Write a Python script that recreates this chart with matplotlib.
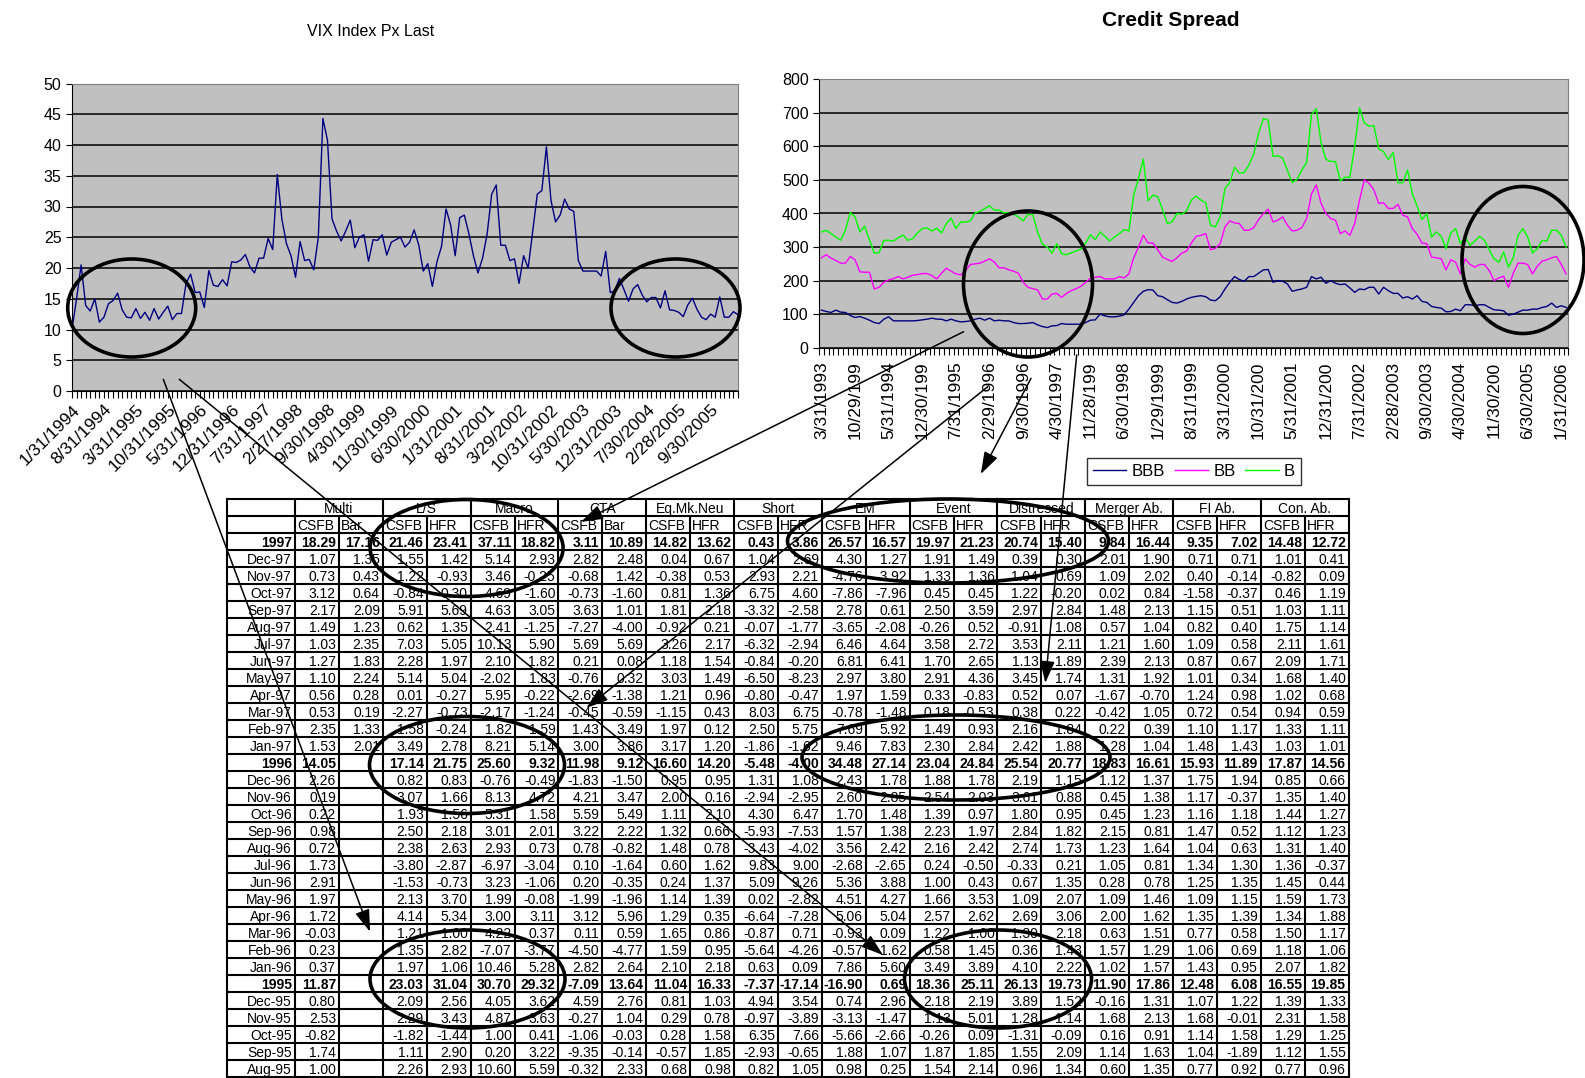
import matplotlib
matplotlib.use('Agg')
import matplotlib.pyplot as plt
from matplotlib.patches import Ellipse
import numpy as np

plt.rcParams['font.family'] = ['Liberation Sans', 'DejaVu Sans']

# VIX month-end closes, starting 1/31/1994
vix = [10.0, 15.0, 20.5, 13.9, 13.0, 15.0, 11.2, 12.0, 14.2, 14.7, 15.9, 13.2,
       12.0, 11.9, 13.4, 11.8, 12.8, 11.5, 13.4, 11.7, 12.8, 13.8, 11.6, 12.6,
       12.6, 17.5, 19.0, 16.0, 16.1, 13.6, 19.6, 17.2, 17.0, 18.1, 17.1, 21.0,
       20.9, 21.3, 22.2, 20.2, 19.2, 21.6, 21.6, 24.8, 23.0, 35.2, 28.0, 24.0,
       22.0, 18.5, 24.3, 21.2, 21.4, 19.7, 25.0, 44.3, 40.8, 28.0, 26.0, 24.4,
       26.0, 27.8, 23.3, 25.0, 25.4, 21.1, 24.6, 24.5, 25.4, 22.1, 24.2, 24.6,
       25.0, 23.4, 24.2, 26.2, 23.8, 19.5, 20.7, 17.0, 21.0, 23.5, 29.6, 27.0,
       22.0, 28.2, 28.6, 25.6, 22.0, 19.2, 21.6, 25.5, 32.0, 33.5, 23.7, 23.7,
       21.2, 21.5, 17.5, 22.0, 20.0, 26.0, 32.0, 32.6, 39.7, 31.0, 27.5, 28.6,
       31.2, 29.6, 29.2, 21.2, 19.5, 19.5, 19.5, 19.5, 18.7, 22.7, 16.0, 16.3,
       18.3, 16.5, 14.6, 16.6, 17.3, 15.6, 14.5, 15.2, 15.2, 13.5, 16.3, 13.2,
       13.1, 12.8, 12.1, 14.0, 15.1, 13.3, 12.0, 11.6, 12.5, 12.0, 15.3, 12.0,
       12.0, 12.9, 12.4]
vix_labels = ['1/31/1994', '8/31/1994', '3/31/1995', '10/31/1995', '5/31/1996',
              '12/31/1996', '7/31/1997', '2/27/1998', '9/30/1998', '4/30/1999',
              '11/30/1999', '6/30/2000', '1/31/2001', '8/31/2001', '3/29/2002',
              '10/31/2002', '5/30/2003', '12/31/2003', '7/30/2004', '2/28/2005',
              '9/30/2005']

# credit spreads (bp), month-end starting 3/31/1993
bbb = [112, 108, 105, 112, 106, 105, 96, 90, 93, 88, 82, 75,
       72, 85, 92, 80, 80, 80, 80, 80, 81, 83, 85, 88,
       85, 85, 80, 85, 80, 77, 78, 80, 85, 88, 82, 88,
       80, 82, 80, 80, 75, 72, 72, 73, 75, 68, 63, 60,
       65, 66, 72, 70, 70, 70, 70, 75, 82, 83, 100, 95,
       92, 92, 94, 98, 115, 135, 155, 168, 173, 172, 155, 152,
       143, 135, 133, 138, 145, 150, 153, 155, 152, 142, 140, 152,
       175, 195, 212, 203, 198, 212, 212, 222, 232, 233, 195, 200,
       198, 190, 168, 172, 175, 180, 212, 205, 210, 192, 200, 192,
       188, 190, 178, 165, 175, 173, 180, 180, 160, 180, 170, 162,
       162, 148, 152, 145, 155, 138, 135, 123, 120, 118, 107, 108,
       115, 110, 128, 128, 125, 128, 128, 120, 113, 112, 110, 97,
       100, 106, 112, 112, 115, 115, 120, 123, 133, 120, 125, 120]
bb = [268, 277, 267, 260, 252, 252, 272, 262, 226, 225, 225, 175,
      180, 195, 202, 206, 212, 205, 210, 216, 218, 221, 221, 215,
      205, 222, 237, 228, 220, 217, 230, 248, 250, 252, 258, 265,
      255, 238, 238, 232, 228, 222, 195, 180, 176, 172, 145, 145,
      160, 162, 150, 162, 170, 176, 183, 195, 207, 210, 212, 205,
      205, 205, 212, 208, 220, 268, 300, 335, 312, 312, 292, 270,
      263, 257, 268, 282, 288, 312, 332, 335, 340, 292, 296, 310,
      360, 378, 372, 370, 350, 350, 358, 382, 400, 413, 375, 380,
      390, 365, 348, 350, 358, 385, 458, 485, 430, 400, 385, 380,
      340, 348, 335, 370, 440, 500, 490, 470, 430, 432, 415, 415,
      427, 395, 390, 355, 338, 312, 310, 270, 268, 265, 232, 262,
      255, 220, 265, 248, 240, 248, 248, 230, 200, 208, 213, 180,
      222, 252, 252, 248, 220, 243, 258, 262, 268, 272, 248, 220]
b = [345, 350, 340, 330, 320, 350, 403, 390, 345, 362, 322, 282,
     283, 320, 320, 318, 328, 336, 320, 325, 342, 355, 357, 348,
     356, 342, 370, 386, 355, 375, 374, 378, 402, 406, 415, 423,
     410, 410, 402, 403, 398, 390, 378, 398, 396, 345, 308, 300,
     282, 310, 280, 277, 283, 288, 294, 312, 337, 322, 345, 332,
     318, 330, 340, 352, 348, 455, 505, 562, 438, 455, 450, 412,
     370, 375, 400, 398, 408, 440, 452, 440, 432, 365, 360, 390,
     475, 492, 538, 520, 522, 545, 578, 640, 683, 678, 570, 572,
     565, 528, 492, 502, 530, 552, 695, 712, 610, 562, 555, 555,
     497, 508, 508, 600, 715, 670, 660, 662, 592, 585, 560, 582,
     492, 492, 530, 458, 422, 382, 400, 330, 345, 332, 295, 342,
     355, 310, 330, 305, 318, 332, 320, 292, 265, 255, 285, 240,
     268, 335, 355, 330, 282, 295, 320, 318, 350, 350, 335, 300]
credit_labels = ['3/31/1993', '10/29/199', '5/31/1994', '12/30/199', '7/31/1995',
                 '2/29/1996', '9/30/1996', '4/30/1997', '11/28/199', '6/30/1998',
                 '1/29/1999', '8/31/1999', '3/31/2000', '10/31/200', '5/31/2001',
                 '12/31/200', '7/31/2002', '2/28/2003', '9/30/2003', '4/30/2004',
                 '11/30/200', '6/30/2005', '1/31/2006']

# hedge fund index table
groups = ['Multi', 'L/S', 'Macro', 'CTA', 'Eq.Mk.Neu', 'Short', 'EM', 'Event',
          'Distressed', 'Merger Ab.', 'FI Ab.', 'Con. Ab.']
sub_heads = ['CSFB', 'Bar', 'CSFB', 'HFR', 'CSFB', 'HFR', 'CSFB', 'Bar'] + ['CSFB', 'HFR'] * 8
row_labels = ['1997', 'Dec-97', 'Nov-97', 'Oct-97', 'Sep-97', 'Aug-97', 'Jul-97', 'Jun-97',
              'May-97', 'Apr-97', 'Mar-97', 'Feb-97', 'Jan-97',
              '1996', 'Dec-96', 'Nov-96', 'Oct-96', 'Sep-96', 'Aug-96', 'Jul-96', 'Jun-96',
              'May-96', 'Apr-96', 'Mar-96', 'Feb-96', 'Jan-96',
              '1995', 'Dec-95', 'Nov-95', 'Oct-95', 'Sep-95', 'Aug-95']
table_rows = [
    '18.29 17.16 21.46 23.41 37.11 18.82 3.11 10.89 14.82 13.62 0.43 3.86 26.57 16.57 19.97 21.23 20.74 15.40 9.84 16.44 9.35 7.02 14.48 12.72',
    '1.07 1.35 1.55 1.42 5.14 2.93 2.82 2.48 0.04 0.67 1.04 2.69 4.30 1.27 1.91 1.49 0.39 0.30 2.01 1.90 0.71 0.71 1.01 0.41',
    '0.73 0.43 1.22 -0.93 3.46 -0.25 -0.68 1.42 -0.38 0.53 2.93 2.21 -4.76 -3.92 1.33 1.36 1.04 0.69 1.09 2.02 0.40 -0.14 -0.82 0.09',
    '3.12 0.64 -0.84 0.30 4.69 -1.60 -0.73 -1.60 0.81 1.36 6.75 4.60 -7.86 -7.96 0.45 0.45 1.22 -0.20 0.02 0.84 -1.58 -0.37 0.46 1.19',
    '2.17 2.09 5.91 5.69 4.63 3.05 3.63 1.01 1.81 2.18 -3.32 -2.58 2.78 0.61 2.50 3.59 2.97 2.84 1.48 2.13 1.15 0.51 1.03 1.11',
    '1.49 1.23 0.62 1.35 2.41 -1.25 -7.27 -4.00 -0.92 0.21 -0.07 -1.77 -3.65 -2.08 -0.26 0.52 -0.91 1.08 0.57 1.04 0.82 0.40 1.75 1.14',
    '1.03 2.35 7.03 5.05 10.13 5.90 5.69 5.69 3.26 2.17 -6.32 -2.94 6.46 4.64 3.58 2.72 3.53 2.11 1.21 1.60 1.09 0.58 2.11 1.61',
    '1.27 1.83 2.28 1.97 2.10 1.82 0.21 0.08 1.18 1.54 -0.84 -0.20 6.81 6.41 1.70 2.65 1.13 1.89 2.39 2.13 0.87 0.67 2.09 1.71',
    '1.10 2.24 5.14 5.04 -2.02 1.83 -0.76 0.32 3.03 1.49 -6.50 -8.23 2.97 3.80 2.91 4.36 3.45 1.74 1.31 1.92 1.01 0.34 1.68 1.40',
    '0.56 0.28 0.01 -0.27 5.95 -0.22 -2.69 -1.38 1.21 0.96 -0.80 -0.47 1.97 1.59 0.33 -0.83 0.52 0.07 -1.67 -0.70 1.24 0.98 1.02 0.68',
    '0.53 0.19 -2.27 -0.73 -2.17 -1.24 -0.45 -0.59 -1.15 0.43 8.03 6.75 -0.78 -1.48 0.18 -0.53 0.38 0.22 -0.42 1.05 0.72 0.54 0.94 0.59',
    '2.35 1.33 1.58 -0.24 1.82 1.59 1.43 3.49 1.97 0.12 2.50 5.75 7.69 5.92 1.49 0.93 2.16 1.84 0.22 0.39 1.10 1.17 1.33 1.11',
    '1.53 2.01 3.49 2.78 8.21 5.14 3.00 3.86 3.17 1.20 -1.86 -1.62 9.46 7.83 2.30 2.84 2.42 1.88 1.28 1.04 1.48 1.43 1.03 1.01',
    '14.05 _ 17.14 21.75 25.60 9.32 11.98 9.12 16.60 14.20 -5.48 -4.00 34.48 27.14 23.04 24.84 25.54 20.77 18.83 16.61 15.93 11.89 17.87 14.56',
    '2.26 _ 0.82 0.83 -0.76 -0.49 -1.83 -1.50 0.95 0.95 1.31 1.08 2.43 1.78 1.88 1.78 2.19 1.15 1.12 1.37 1.75 1.94 0.85 0.66',
    '0.19 _ 3.07 1.66 8.13 4.72 4.21 3.47 2.00 0.16 -2.94 -2.95 2.60 2.85 2.54 2.03 3.61 0.88 0.45 1.38 1.17 -0.37 1.35 1.40',
    '0.22 _ 1.93 1.56 5.31 1.58 5.59 5.49 1.11 2.10 4.30 6.47 1.70 1.48 1.39 0.97 1.80 0.95 0.45 1.23 1.16 1.18 1.44 1.27',
    '0.98 _ 2.50 2.18 3.01 2.01 3.22 2.22 1.32 0.66 -5.93 -7.53 1.57 1.38 2.23 1.97 2.84 1.82 2.15 0.81 1.47 0.52 1.12 1.23',
    '0.72 _ 2.38 2.63 2.93 0.73 0.78 -0.82 1.48 0.78 -3.43 -4.02 3.56 2.42 2.16 2.42 2.74 1.73 1.23 1.64 1.04 0.63 1.31 1.40',
    '1.73 _ -3.80 -2.87 -6.97 -3.04 0.10 -1.64 0.60 1.62 9.83 9.00 -2.68 -2.65 0.24 -0.50 -0.33 0.21 1.05 0.81 1.34 1.30 1.36 -0.37',
    '2.91 _ -1.53 -0.73 3.23 -1.06 0.20 -0.35 0.24 1.37 5.09 9.26 5.36 3.88 1.00 0.43 0.67 1.35 0.28 0.78 1.25 1.35 1.45 0.44',
    '1.97 _ 2.13 3.70 1.99 -0.08 -1.99 -1.96 1.14 1.39 0.02 -2.82 4.51 4.27 1.66 3.53 1.09 2.07 1.09 1.46 1.09 1.15 1.59 1.73',
    '1.72 _ 4.14 5.34 3.00 3.11 3.12 5.96 1.29 0.35 -6.64 -7.28 5.06 5.04 2.57 2.62 2.69 3.06 2.00 1.62 1.35 1.39 1.34 1.88',
    '-0.03 _ 1.21 1.00 4.22 0.37 0.11 0.59 1.65 0.86 -0.87 0.71 -0.93 0.09 1.22 1.00 1.30 2.18 0.63 1.51 0.77 0.58 1.50 1.17',
    '0.23 _ 1.35 2.82 -7.07 -3.77 -4.50 -4.77 1.59 0.95 -5.64 -4.26 -0.57 1.62 0.58 1.45 0.36 1.43 1.57 1.29 1.06 0.69 1.18 1.06',
    '0.37 _ 1.97 1.06 10.46 5.28 2.82 2.64 2.10 2.18 0.63 0.09 7.86 5.60 3.49 3.89 4.10 2.22 1.02 1.57 1.43 0.95 2.07 1.82',
    '11.87 _ 23.03 31.04 30.70 29.32 -7.09 13.64 11.04 16.33 -7.37 -17.14 -16.90 0.69 18.36 25.11 26.13 19.73 11.90 17.86 12.48 6.08 16.55 19.85',
    '0.80 _ 2.09 2.56 4.05 3.62 4.59 2.76 0.81 1.03 4.94 3.54 0.74 2.96 2.18 2.19 3.89 1.52 -0.16 1.31 1.07 1.22 1.39 1.33',
    '2.53 _ 2.29 3.43 4.87 3.63 -0.27 1.04 0.29 0.78 -0.97 -3.89 -3.13 -1.47 1.13 5.01 1.28 1.14 1.68 2.13 1.68 -0.01 2.31 1.58',
    '-0.82 _ -1.82 -1.44 1.00 0.41 -1.06 -0.03 0.28 1.58 6.35 7.66 -5.66 -2.66 -0.26 0.09 -1.31 -0.09 0.16 0.91 1.14 1.58 1.29 1.25',
    '1.74 _ 1.11 2.90 0.20 3.22 -9.35 -0.14 -0.57 1.85 -2.93 -0.65 1.88 1.07 1.87 1.85 1.55 2.09 1.14 1.63 1.04 -1.89 1.12 1.55',
    '1.00 _ 2.26 2.93 10.60 5.59 -0.32 2.33 0.68 0.98 0.82 1.05 0.98 0.25 1.54 2.14 0.96 1.34 0.60 1.35 0.77 0.92 0.77 0.96',
]

W, H = 1585, 1078
fig = plt.figure(figsize=(W / 100, H / 100), dpi=100)


def px_axes(left, top, right, bottom, **kw):
    return fig.add_axes([left / W, 1 - bottom / H, (right - left) / W, (bottom - top) / H], **kw)


def excel_style(ax):
    ax.set_facecolor('#C0C0C0')
    ax.yaxis.grid(True, color='black', lw=1.1)
    ax.set_axisbelow(True)
    for s in ('top', 'right'):
        ax.spines[s].set_color('#808080')
    for s in ('left', 'bottom'):
        ax.spines[s].set_color('black')


# ---- VIX chart
ax1 = px_axes(72, 83.5, 738, 391)
excel_style(ax1)
xv = np.arange(len(vix))
ax1.plot(xv, vix, color='#000080', lw=1)
ax1.set_xlim(0, len(vix) - 1)
ax1.set_ylim(0, 50)
ax1.set_yticks(np.arange(0, 51, 5))
ax1.set_xticks(np.arange(0, len(vix), 7))
ax1.set_xticklabels(vix_labels, rotation=45, ha='right', va='top',
                    rotation_mode='anchor', fontsize=12.5)
ax1.set_xticks(xv, minor=True)
ax1.tick_params(axis='x', which='both', length=5, width=0.8, pad=3)
ax1.tick_params(axis='y', length=4, labelsize=11.5)
fig.text(371 / W, 1 - 32 / H, 'VIX Index Px Last', ha='center', va='center', fontsize=11.5)

# ---- Credit spread chart
ax2 = px_axes(819, 79.3, 1568.5, 347.7)
excel_style(ax2)
xc = np.arange(len(b))
l1, = ax2.plot(xc, bbb, color='#000080', lw=1, label='BBB')
l2, = ax2.plot(xc, bb, color='#FF00FF', lw=1, label='BB')
l3, = ax2.plot(xc, b, color='#00FF00', lw=1, label='B')
ax2.set_xlim(-0.5, len(b) - 0.5)
ax2.set_ylim(0, 800)
ax2.set_yticks(np.arange(0, 801, 100))
ax2.set_xticks(np.arange(0, len(b), 7))
ax2.set_xticklabels(credit_labels, rotation=90, ha='center', va='top', fontsize=12.5)
ax2.set_xticks(np.arange(-0.5, len(b), 1), minor=True)
ax2.tick_params(axis='x', which='major', length=0, pad=10)
ax2.tick_params(axis='x', which='minor', length=5, width=0.8)
ax2.tick_params(axis='y', length=4, labelsize=11.5)
fig.text(1171 / W, 1 - 20 / H, 'Credit Spread', ha='center', va='center',
         fontsize=15, fontweight='bold')
leg = fig.legend(handles=[l1, l2, l3], loc='center', ncol=3,
                 bbox_to_anchor=(1194 / W, 1 - 471.5 / H), fontsize=12,
                 frameon=True, fancybox=False, edgecolor='black',
                 handlelength=2.0, handletextpad=0.3, columnspacing=0.6,
                 borderpad=0.35)
leg.get_frame().set_linewidth(1.0)

# ---- overlay in pixel coordinates: table, ellipses, arrows
ov = fig.add_axes([0, 0, 1, 1], zorder=10)
ov.set_xlim(0, W)
ov.set_ylim(H, 0)
ov.axis('off')
ov.patch.set_alpha(0)

T_LEFT, T_TOP, ROW_H, LAB_W, COL_W = 227, 499.3, 17.0, 68, 43.9
n_rows = 2 + len(row_labels)
n_cols = len(sub_heads)
t_right = T_LEFT + LAB_W + n_cols * COL_W
t_bottom = T_TOP + n_rows * ROW_H
col_x = T_LEFT + LAB_W + np.arange(n_cols + 1) * COL_W
grid_kw = dict(color='black', lw=1.5, solid_capstyle='projecting')

for k in range(n_rows + 1):
    yy = T_TOP + k * ROW_H
    ov.plot([T_LEFT, t_right], [yy, yy], **grid_kw)
ov.plot([T_LEFT, T_LEFT], [T_TOP, t_bottom], **grid_kw)
for j, xx in enumerate(col_x):
    top = T_TOP if j % 2 == 0 else T_TOP + ROW_H
    ov.plot([xx, xx], [top, t_bottom], **grid_kw)

FS = 10
for g, name in enumerate(groups):
    ov.text(col_x[2 * g] + COL_W, T_TOP + 0.5 * ROW_H + 5, name, ha='center',
            va='baseline', fontsize=FS)
for j, s in enumerate(sub_heads):
    ov.text(col_x[j] + 2, T_TOP + 1.5 * ROW_H + 5, s, ha='left', va='baseline', fontsize=FS)
for i, (lab, row) in enumerate(zip(row_labels, table_rows)):
    yb = T_TOP + (i + 2.5) * ROW_H + 5
    weight = 'bold' if '-' not in lab else 'normal'
    ov.text(col_x[0] - 3, yb, lab, ha='right', va='baseline', fontsize=FS, fontweight=weight)
    for j, v in enumerate(row.split()):
        if v == '_':
            continue
        ov.text(col_x[j + 1] - 3, yb, v, ha='right', va='baseline', fontsize=FS,
                fontweight=weight)

# highlight ellipses (centre x, centre y, width, height) in pixels
ellipses = [(131.7, 308, 128, 98), (675.5, 308, 129, 98),
            (1028, 284, 129, 146), (1523, 260, 122, 147),
            (466.6, 548, 193, 97), (467, 765, 195, 97), (467.5, 979, 195, 98),
            (948, 541, 321, 84), (956, 757.5, 308, 85), (998, 979, 187, 98)]
for cx, cy, ew, eh in ellipses:
    ov.add_patch(Ellipse((cx, cy), ew, eh, fill=False, ec='black', lw=2.6))

# arrows (start, tip) in pixels
arrows = [((163.3, 379.3), (370, 931.7)), ((179.3, 379.3), (883, 955)),
          ((963.6, 331.7), (581, 522)), ((987.8, 386.7), (586.3, 708)),
          ((1031, 378.3), (980.8, 474)), ((1076.7, 355), (1045.3, 683))]
for start, tip in arrows:
    ov.annotate('', xy=tip, xytext=start,
                arrowprops=dict(arrowstyle='-|>,head_length=0.75,head_width=0.25',
                                color='black', lw=1.1, shrinkA=0, shrinkB=0,
                                mutation_scale=18))

fig.savefig('out.png', dpi=100)
